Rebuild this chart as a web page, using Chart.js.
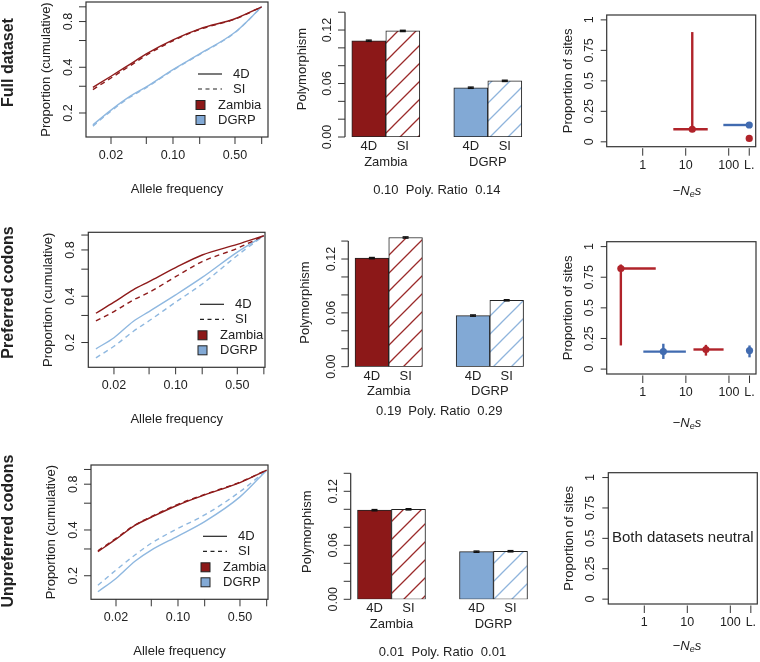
<!DOCTYPE html>
<html>
<head>
<meta charset="utf-8">
<title>Polymorphism by codon class</title>
<script src="https://cdn.jsdelivr.net/npm/chart.js@4.4.1/dist/chart.umd.min.js"></script>
<style>
  body { margin: 0; background: #fff; }
  #fig { position: relative; width: 760px; height: 662px; overflow: hidden; }
  #fig canvas { position: absolute; }
</style>
</head>
<body>
<div id="fig"></div>
<script>
// ---------- data ----------
const rowNames = ['Full dataset', 'Preferred codons', 'Unpreferred codons'];
const populations = ['Zambia', 'DGRP'];
const siteClasses = ['4D', 'SI'];

// cumulative proportion of sites against allele frequency
const alleleFreq = [0.0125, 0.02, 0.033, 0.05, 0.1, 0.2, 0.5, 1.0];
const cumFullZambia4D = [0.295, 0.349, 0.42, 0.49, 0.606, 0.716, 0.835, 1.0];
const cumFullZambiaSI = [0.285, 0.34, 0.41, 0.48, 0.598, 0.71, 0.83, 1.0];
const cumFullDGRP4D = [0.167, 0.209, 0.258, 0.297, 0.386, 0.49, 0.68, 1.0];
const cumFullDGRPSI = [0.164, 0.206, 0.255, 0.294, 0.383, 0.487, 0.677, 1.0];
const cumPrefZambia4D = [0.31, 0.366, 0.44, 0.498, 0.614, 0.742, 0.87, 0.99];
const cumPrefZambiaSI = [0.277, 0.318, 0.378, 0.424, 0.536, 0.672, 0.82, 0.99];
const cumPrefDGRP4D = [0.182, 0.215, 0.274, 0.318, 0.408, 0.53, 0.775, 0.99];
const cumPrefDGRPSI = [0.159, 0.189, 0.236, 0.277, 0.366, 0.48, 0.737, 0.99];
const cumUnprefZambia4D = [0.288, 0.348, 0.43, 0.485, 0.584, 0.68, 0.82, 0.99];
const cumUnprefZambiaSI = [0.292, 0.352, 0.433, 0.49, 0.59, 0.685, 0.825, 0.99];
const cumUnprefDGRP4D = [0.157, 0.192, 0.25, 0.295, 0.365, 0.454, 0.66, 0.99];
const cumUnprefDGRPSI = [0.173, 0.218, 0.275, 0.327, 0.41, 0.502, 0.714, 0.99];

// polymorphism (4D, SI) per population, with their small errors
const polyFullZambia = [0.108, 0.119];
const polyFullDGRP = [0.0553, 0.063];
const polyPrefZambia = [0.121, 0.144];
const polyPrefDGRP = [0.057, 0.074];
const polyUnprefZambia = [0.099, 0.1];
const polyUnprefDGRP = [0.0529, 0.0534];
const polyErr = [0.0007, 0.0007];
const ratioFull = [0.10, 0.14];
const ratioPref = [0.19, 0.29];
const ratioUnpref = [0.01, 0.01];

// selection estimates: -Nes class and proportion of sites
const lethal = 300; // where the "L." class sits on the -Nes axis
const selFullZambia = [
  { nes: 14.2, nesLo: 5.15, nesHi: 32.5, prop: 0.103, propLo: 0.08, propHi: 0.9 },
  { nes: 'L', prop: 0.028 }
];
const selFullDGRP = [
  { nes: 'L', nesLo: 75, prop: 0.138 }
];
const selPrefZambia = [
  { nes: 0.31, nesLo: 0.31, nesHi: 2.0, prop: 0.821, propLo: 0.193, propHi: 0.854 },
  { nes: 29.2, nesLo: 15, nesHi: 75, prop: 0.16, propLo: 0.11, propHi: 0.198 }
];
const selPrefDGRP = [
  { nes: 3.0, nesLo: 1.03, nesHi: 10, prop: 0.143, propLo: 0.083, propHi: 0.207 },
  { nes: 'L', prop: 0.152, propLo: 0.096, propHi: 0.193 }
];
const selUnprefZambia = [];
const selUnprefDGRP = [];

// axis ticks
const freqTicks = [0.02, 0.05, 0.1, 0.2, 0.5, 1];
const freqTickLabels = ['0.02', '', '0.10', '', '0.50', ''];
const cumTicks = [0.2, 0.3, 0.4, 0.6, 0.8, 1];
const cumTickLabels = ['0.2', '', '0.4', '', '0.8', ''];
const polyTicks = [0, 0.02, 0.04, 0.06, 0.08, 0.1, 0.12, 0.14];
const polyTickLabels = ['0.00', '', '', '0.06', '', '', '0.12', ''];
const propTicks = [0, 0.25, 0.5, 0.75, 1];
const propTickLabels = ['0', '0.25', '0.5', '0.75', '1'];
const nesTicks = [1, 10, 100, lethal];
const nesTickLabels = ['1', '10', '100', 'L.'];

const cumRows = [
  [[cumFullZambia4D, cumFullZambiaSI], [cumFullDGRP4D, cumFullDGRPSI]],
  [[cumPrefZambia4D, cumPrefZambiaSI], [cumPrefDGRP4D, cumPrefDGRPSI]],
  [[cumUnprefZambia4D, cumUnprefZambiaSI], [cumUnprefDGRP4D, cumUnprefDGRPSI]]
];
const polyRows = [[polyFullZambia, polyFullDGRP], [polyPrefZambia, polyPrefDGRP], [polyUnprefZambia, polyUnprefDGRP]];
const ratioRows = [ratioFull, ratioPref, ratioUnpref];
const selRows = [[selFullZambia, selFullDGRP], [selPrefZambia, selPrefDGRP], [selUnprefZambia, selUnprefDGRP]];

// ---------- layout ----------
const ROW_Y = [0, 215, 430], ROW_H = [215, 215, 232];
const COL_X = [0, 285, 535], COL_W = [290, 260, 225];
const box1 = [{ l: 86, r: 268, t: 2, b: 137 }, { l: 88.3, r: 265, t: 232.3, b: 367.3 }, { l: 91, r: 268, t: 465, b: 599.3 }];
const freqRange = [[0.01045, 1.178], [0.01024, 1.03], [0.01045, 1.035]];
const cumRange = [[0.139, 1.076], [0.138, 1.042], [0.14, 1.07]];
const legendX = [198, 200, 203];
const rowLabelY = [62.5, 292.5, 531];
const box2 = [{ l: 345, r: 528.6, t: 3.3, b: 137 }, { l: 348.3, r: 530.3, t: 232.1, b: 366.7 }, { l: 350.7, r: 534.3, t: 464.3, b: 599.3 }];
const ratioY = [190.7, 411.7, 652.7];
const polyTitleY = [69, 302.5, 531.7];
const box3 = [{ l: 606.7, r: 755.7, t: 15, b: 146.7 }, { l: 606.7, r: 756, t: 241.7, b: 374 }, { l: 608.3, r: 757.3, t: 472.7, b: 604 }];
const nesTitleY = [190, 422.3, 645];

const FONT = '"Liberation Sans", Arial, Helvetica, sans-serif';
const INK = '#222';
const lineCol = ['#8E1B1B', '#8FB8E0'];
const barFill = ['#8C1818', '#82A9D5'];
const hatchCol = ['#9B2A2A', '#8FB4DC'];
const selCol = ['#B0232A', '#416BB0'];

const fig = document.getElementById('fig');
function addCanvas(col, row) {
  const c = document.createElement('canvas');
  c.width = COL_W[col]; c.height = ROW_H[row];
  c.style.left = COL_X[col] + 'px'; c.style.top = ROW_Y[row] + 'px';
  fig.appendChild(c);
  return c;
}
function pad(b, col, row) {
  return { left: b.l - COL_X[col], right: COL_X[col] + COL_W[col] - b.r,
           top: b.t - ROW_Y[row], bottom: ROW_Y[row] + ROW_H[row] - b.b };
}
function text(ctx, s, x, y, size, align, rot, weight) {
  ctx.save();
  ctx.font = (weight ? weight + ' ' : '') + size + 'px ' + FONT;
  ctx.fillStyle = INK;
  ctx.textAlign = align || 'center';
  ctx.textBaseline = 'middle';
  ctx.translate(x, y);
  if (rot) ctx.rotate(-Math.PI / 2);
  ctx.fillText(s, 0, 0);
  ctx.restore();
}
function seg(ctx, x1, y1, x2, y2, col, lw, dash) {
  ctx.save();
  ctx.strokeStyle = col || '#333';
  ctx.lineWidth = lw || 1;
  ctx.setLineDash(dash || []);
  ctx.beginPath(); ctx.moveTo(x1, y1); ctx.lineTo(x2, y2); ctx.stroke();
  ctx.restore();
}
function frame(ctx, a) {
  ctx.save();
  ctx.strokeStyle = '#333'; ctx.lineWidth = 1.2;
  ctx.strokeRect(a.left, a.top, a.right - a.left, a.bottom - a.top);
  ctx.restore();
}
function hatch(canvas, color) {
  const s = 18, t = document.createElement('canvas');
  t.width = s; t.height = s;
  const g = t.getContext('2d');
  g.fillStyle = '#fff'; g.fillRect(0, 0, s, s);
  g.strokeStyle = color; g.lineWidth = 1.3;
  g.beginPath();
  g.moveTo(0, s); g.lineTo(s, 0);
  g.moveTo(-2, 2); g.lineTo(2, -2);
  g.moveTo(s - 2, s + 2); g.lineTo(s + 2, s - 2);
  g.stroke();
  return canvas.getContext('2d').createPattern(t, 'repeat');
}
const base = { responsive: false, animation: false, events: [], devicePixelRatio: 1,
  plugins: { legend: { display: false }, tooltip: { enabled: false } } };

// ---------- column 1: cumulative curves ----------
function cumChart(r) {
  const cv = addCanvas(0, r);
  const datasets = [];
  populations.forEach((p, pi) => siteClasses.forEach((s, si) => {
    datasets.push({
      label: p + ' ' + s,
      data: alleleFreq.map((f, i) => ({ x: f, y: cumRows[r][pi][si][i] })),
      borderColor: lineCol[pi], borderWidth: 1.4, borderDash: si ? [5, 4] : [],
      pointRadius: 0, cubicInterpolationMode: 'monotone', fill: false
    });
  }));
  new Chart(cv, {
    type: 'line',
    data: { datasets },
    options: Object.assign({}, base, {
      layout: { padding: pad(box1[r], 0, r) },
      scales: {
        x: { type: 'logarithmic', display: false, min: freqRange[r][0], max: freqRange[r][1] },
        y: { type: 'logarithmic', display: false, min: cumRange[r][0], max: cumRange[r][1] }
      }
    }),
    plugins: [{
      id: 'cumDeco',
      afterDraw(c) {
        const ctx = c.ctx, a = c.chartArea, xs = c.scales.x, ys = c.scales.y;
        frame(ctx, a);
        freqTicks.forEach((v, i) => {
          const x = xs.getPixelForValue(v);
          seg(ctx, x, a.bottom, x, a.bottom + 7);
          if (freqTickLabels[i]) text(ctx, freqTickLabels[i], x, a.bottom + 18.5, 12.5);
        });
        cumTicks.forEach((v, i) => {
          const y = ys.getPixelForValue(v);
          seg(ctx, a.left, y, a.left - 7, y);
          if (cumTickLabels[i]) text(ctx, cumTickLabels[i], a.left - 17.5, y, 12.5, 'center', true);
        });
        text(ctx, 'Allele frequency', (a.left + a.right) / 2, a.bottom + 52, 13);
        text(ctx, 'Proportion (cumulative)', a.left - 39.5, (a.top + a.bottom) / 2, 13, 'center', true);
        const lx = legendX[r] - COL_X[0];
        const ly = [-63, -48, -32, -17].map(d => a.bottom + d);
        siteClasses.forEach((s, si) => {
          seg(ctx, lx, ly[si], lx + 24, ly[si], INK, 1.2, si ? [4, 3.5] : []);
          text(ctx, s, lx + 35, ly[si], 13, 'left');
        });
        populations.forEach((p, pi) => {
          const y = ly[2 + pi];
          ctx.fillStyle = barFill[pi];
          ctx.fillRect(lx - 2, y - 4.5, 9, 9);
          ctx.strokeStyle = '#222'; ctx.lineWidth = 1;
          ctx.strokeRect(lx - 2, y - 4.5, 9, 9);
          text(ctx, p, lx + 20, y, 13, 'left');
        });
        text(ctx, rowNames[r], 9 - COL_X[0], rowLabelY[r] - ROW_Y[r], 16, 'center', true, 'bold');
      }
    }]
  });
}

// ---------- column 2: polymorphism bars ----------
function polyChart(r) {
  const cv = addCanvas(1, r);
  const pts = [], bg = [], err = [];
  polyRows[r].forEach((g, gi) => g.forEach((v, si) => {
    pts.push({ x: 1 + gi * 3 + si + 0.5, y: v });
    bg.push(si ? hatch(cv, hatchCol[gi]) : barFill[gi]);
    err.push(polyErr[si]);
  }));
  new Chart(cv, {
    type: 'bar',
    data: { datasets: [{ data: pts, backgroundColor: bg, borderColor: '#222', borderWidth: 1,
      borderSkipped: false, categoryPercentage: 1, barPercentage: 1 }] },
    options: Object.assign({}, base, {
      layout: { padding: pad(box2[r], 1, r) },
      scales: {
        x: { type: 'linear', display: false, offset: false, min: 0.8, max: 6.2,
             afterBuildTicks: s => { s.ticks = pts.map(p => ({ value: p.x })); } },
        y: { type: 'linear', display: false, min: 0, max: 0.15 }
      }
    }),
    plugins: [{
      id: 'polyDeco',
      afterDraw(c) {
        const ctx = c.ctx, a = c.chartArea, xs = c.scales.x, ys = c.scales.y;
        pts.forEach((p, i) => {
          const x = xs.getPixelForValue(p.x);
          const y1 = ys.getPixelForValue(p.y - err[i]), y2 = ys.getPixelForValue(p.y + err[i]);
          seg(ctx, x, y1, x, y2, '#111', 1.4);
          seg(ctx, x - 3, y1, x + 3, y1, '#111', 1.4);
          seg(ctx, x - 3, y2, x + 3, y2, '#111', 1.4);
          text(ctx, siteClasses[i % 2], x, a.bottom + 9.5, 13);
        });
        seg(ctx, a.left, ys.getPixelForValue(0), a.left, ys.getPixelForValue(polyTicks[polyTicks.length - 1]), '#333', 1.2);
        polyTicks.forEach((v, i) => {
          const y = ys.getPixelForValue(v);
          seg(ctx, a.left, y, a.left - 7, y);
          if (polyTickLabels[i]) text(ctx, polyTickLabels[i], a.left - 17, y, 12.5, 'center', true);
        });
        const gc = populations.map((p, gi) => xs.getPixelForValue(2 + gi * 3));
        populations.forEach((p, gi) => text(ctx, p, gc[gi], a.bottom + 25, 13));
        const ry = ratioY[r] - ROW_Y[r];
        text(ctx, ratioRows[r][0].toFixed(2), gc[0], ry, 13);
        text(ctx, 'Poly. Ratio', (gc[0] + gc[1]) / 2, ry, 13);
        text(ctx, ratioRows[r][1].toFixed(2), gc[1], ry, 13);
        text(ctx, 'Polymorphism', a.left - 43, polyTitleY[r] - ROW_Y[r], 13, 'center', true);
      }
    }]
  });
}

// ---------- column 3: selection estimates ----------
function selChart(r) {
  const cv = addCanvas(2, r);
  const datasets = populations.map((p, pi) => ({
    label: p,
    data: selRows[r][pi].map(e => ({ x: e.nes === 'L' ? lethal : e.nes, y: e.prop, e })),
    backgroundColor: selCol[pi], borderWidth: 0, pointRadius: 3.6
  }));
  const empty = datasets.every(d => d.data.length === 0);
  new Chart(cv, {
    type: 'scatter',
    data: { datasets },
    options: Object.assign({}, base, {
      layout: { padding: pad(box3[r], 2, r) },
      scales: {
        x: { type: 'logarithmic', display: false, min: 0.1455, max: 424 },
        y: { type: 'linear', display: false, min: -0.04, max: 1.04 }
      }
    }),
    plugins: [{
      id: 'selDeco',
      beforeDatasetsDraw(c) {
        const ctx = c.ctx, xs = c.scales.x, ys = c.scales.y;
        c.data.datasets.forEach((ds, di) => ds.data.forEach(p => {
          const x = xs.getPixelForValue(p.x), y = ys.getPixelForValue(p.y), e = p.e;
          if (e.nesLo != null) {
            const x2 = e.nesHi != null ? xs.getPixelForValue(e.nesHi) : x;
            seg(ctx, xs.getPixelForValue(e.nesLo), y, x2, y, selCol[di], 2.4);
          }
          if (e.propLo != null) {
            seg(ctx, x, ys.getPixelForValue(e.propLo), x, ys.getPixelForValue(e.propHi), selCol[di], 2.4);
          }
        }));
      },
      afterDraw(c) {
        const ctx = c.ctx, a = c.chartArea, xs = c.scales.x, ys = c.scales.y;
        frame(ctx, a);
        propTicks.forEach((v, i) => {
          const y = ys.getPixelForValue(v);
          seg(ctx, a.left, y, a.left - 6, y);
          text(ctx, propTickLabels[i], a.left - 17.5, y, 12.5, 'center', true);
        });
        nesTicks.forEach((v, i) => {
          const x = xs.getPixelForValue(v);
          seg(ctx, x, a.bottom + 1.5, x, a.bottom + 9);
          text(ctx, nesTickLabels[i], x, a.bottom + 19, 12.5);
        });
        text(ctx, 'Proportion of sites', a.left - 38.5, (a.top + a.bottom) / 2, 13, 'center', true);
        // x title: -N_e s
        const parts = [['\u2212', '', 13, 0], ['N', 'italic', 13, 0], ['e', 'italic', 9, 2.5], ['s', 'italic', 13, 0]];
        let w = 0;
        parts.forEach(pt => { ctx.font = (pt[1] ? pt[1] + ' ' : '') + pt[2] + 'px ' + FONT; w += ctx.measureText(pt[0]).width; });
        let x = 687 - COL_X[2] - w / 2;
        const y = nesTitleY[r] - ROW_Y[r] + 4.5;
        ctx.save();
        ctx.fillStyle = INK; ctx.textAlign = 'left'; ctx.textBaseline = 'alphabetic';
        parts.forEach(pt => {
          ctx.font = (pt[1] ? pt[1] + ' ' : '') + pt[2] + 'px ' + FONT;
          ctx.fillText(pt[0], x, y + pt[3]);
          x += ctx.measureText(pt[0]).width;
        });
        ctx.restore();
        if (empty) text(ctx, 'Both datasets neutral', (a.left + a.right) / 2, ys.getPixelForValue(0.5), 15);
      }
    }]
  });
}

[0, 1, 2].forEach(r => { cumChart(r); polyChart(r); selChart(r); });
</script>
</body>
</html>
